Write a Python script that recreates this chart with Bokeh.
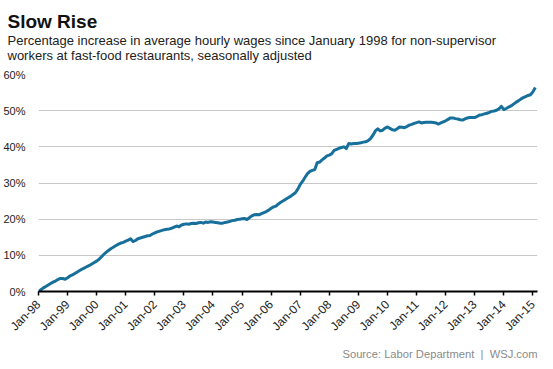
import math
from bokeh.plotting import figure
from bokeh.models import Range1d, FixedTicker, Title
from bokeh.embed import file_html
from bokeh.resources import INLINE

# Percentage increase in average hourly wages since Jan 1998 (monthly)
wage_1998 = [0.0, 0.5, 1.0, 1.4, 1.8, 2.2, 2.6, 2.9, 3.3, 3.6, 3.6, 3.4]
wage_1999 = [3.8, 4.3, 4.6, 5.0, 5.4, 5.8, 6.2, 6.5, 6.9, 7.2, 7.6, 8.0]
wage_2000 = [8.4, 8.9, 9.6, 10.3, 10.9, 11.4, 11.9, 12.3, 12.7, 13.1, 13.4, 13.6]
wage_2001 = [13.9, 14.2, 14.6, 13.8, 14.1, 14.6, 14.8, 15.0, 15.2, 15.4, 15.5, 15.9]
wage_2002 = [16.2, 16.5, 16.7, 16.9, 17.1, 17.2, 17.3, 17.5, 17.8, 18.1, 17.9, 18.4]
wage_2003 = [18.6, 18.7, 18.6, 18.8, 18.9, 18.8, 19.0, 19.1, 18.9, 19.2, 19.1, 19.3]
wage_2004 = [19.2, 19.1, 19.0, 18.9, 18.9, 19.1, 19.2, 19.4, 19.6, 19.7, 19.9, 20.0]
wage_2005 = [20.1, 20.2, 19.9, 20.4, 20.9, 21.2, 21.3, 21.2, 21.5, 21.8, 22.1, 22.5]
wage_2006 = [23.0, 23.4, 23.6, 24.2, 24.7, 25.1, 25.5, 25.9, 26.3, 26.8, 27.3, 28.3]
wage_2007 = [29.6, 30.5, 31.6, 32.6, 33.2, 33.5, 33.7, 35.6, 35.8, 36.4, 36.9, 37.5]
wage_2008 = [37.7, 38.1, 39.0, 39.3, 39.6, 39.8, 40.0, 39.5, 40.9, 40.8, 40.9, 40.9]
wage_2009 = [41.0, 41.1, 41.3, 41.4, 41.7, 42.3, 43.2, 44.4, 45.0, 44.4, 44.6, 45.2]
wage_2010 = [45.5, 45.1, 44.7, 44.6, 45.0, 45.5, 45.4, 45.3, 45.6, 46.0, 46.2, 46.5]
wage_2011 = [46.7, 46.9, 46.6, 46.7, 46.8, 46.8, 46.8, 46.7, 46.6, 46.3, 46.6, 46.9]
wage_2012 = [47.2, 47.6, 48.0, 48.0, 47.8, 47.7, 47.5, 47.4, 47.7, 48.0, 48.1, 48.1]
wage_2013 = [48.1, 48.4, 48.8, 48.9, 49.1, 49.3, 49.5, 49.8, 49.9, 50.1, 50.5, 51.2]
wage_2014 = [50.3, 50.6, 51.0, 51.3, 51.8, 52.3, 52.7, 53.2, 53.6, 53.9, 54.2, 54.4]
wage_2015 = [55.2, 56.4]

x_tick_labels = ["Jan-98", "Jan-99", "Jan-00", "Jan-01", "Jan-02", "Jan-03",
                 "Jan-04", "Jan-05", "Jan-06", "Jan-07", "Jan-08", "Jan-09",
                 "Jan-10", "Jan-11", "Jan-12", "Jan-13", "Jan-14", "Jan-15"]
y_ticks = [0, 10, 20, 30, 40, 50, 60]
y_tick_labels = ["0%", "10%", "20%", "30%", "40%", "50%", "60%"]

values = (wage_1998 + wage_1999 + wage_2000 + wage_2001 + wage_2002 + wage_2003 +
          wage_2004 + wage_2005 + wage_2006 + wage_2007 + wage_2008 + wage_2009 +
          wage_2010 + wage_2011 + wage_2012 + wage_2013 + wage_2014 + wage_2015)
months = list(range(len(values)))  # months since Jan 1998
x_ticks = [12 * i for i in range(len(x_tick_labels))]

FONT = "Liberation Sans"

p = figure(width=553, height=369, output_backend="svg", toolbar_location=None,
           title=None,
           x_range=Range1d(0, 205.9), y_range=Range1d(0, 60),
           min_border_left=36, min_border_right=16, min_border_top=74,
           min_border_bottom=78, background_fill_color="white")
p.outline_line_color = None

p.line(months, values, line_color="#17709b", line_width=3, line_join="round")

# y axis
p.yaxis.ticker = FixedTicker(ticks=y_ticks, minor_ticks=[])
p.yaxis.major_label_overrides = {t: l for t, l in zip(y_ticks, y_tick_labels)}
p.yaxis.axis_line_color = None
p.yaxis.major_tick_line_color = None
p.yaxis.minor_tick_line_color = None
p.yaxis.major_tick_out = 0
p.yaxis.major_tick_in = 0
p.yaxis.major_label_standoff = 13
p.yaxis.major_label_text_font = FONT
p.yaxis.major_label_text_font_size = "11px"
p.yaxis.major_label_text_color = "#222222"

# x axis
p.xaxis.ticker = FixedTicker(ticks=x_ticks, minor_ticks=[])
p.xaxis.major_label_overrides = {t: l for t, l in zip(x_ticks, x_tick_labels)}
p.xaxis.major_label_orientation = math.pi / 4
p.xaxis.axis_line_color = "black"
p.xaxis.axis_line_width = 2
p.xaxis.major_tick_line_color = "black"
p.xaxis.major_tick_line_width = 1.5
p.xaxis.major_tick_out = 4
p.xaxis.major_tick_in = 0
p.xaxis.minor_tick_line_color = None
p.xaxis.major_label_standoff = 7
p.xaxis.major_label_text_font = FONT
p.xaxis.major_label_text_font_size = "12px"
p.xaxis.major_label_text_color = "#222222"

p.xgrid.grid_line_color = None
p.ygrid.grid_line_color = "#c8c8c8"
p.ygrid.grid_line_width = 1

# texts (nearest to the frame first)
p.add_layout(Title(text="workers at fast-food restaurants, seasonally adjusted",
                   align="left", offset=-31, standoff=23,
                   text_font=FONT, text_font_size="13px", text_font_style="normal",
                   text_color="#222222"), "above")
p.add_layout(Title(text="Percentage increase in average hourly wages since January 1998 for non-supervisor",
                   align="left", offset=-31, standoff=-26,
                   text_font=FONT, text_font_size="13px", text_font_style="normal",
                   text_color="#222222"), "above")
p.add_layout(Title(text="Slow Rise", align="left", offset=-31, standoff=5,
                   text_font=FONT, text_font_size="19px", text_font_style="bold",
                   text_color="#111111"), "above")
p.add_layout(Title(text="Source: Labor Department \u00a0|\u00a0 WSJ.com", align="right",
                   offset=0, standoff=8,
                   text_font=FONT, text_font_size="11.2px", text_font_style="normal",
                   text_color="#8a8a8a"), "below")

open("out.html", "w").write(file_html(p, INLINE))
